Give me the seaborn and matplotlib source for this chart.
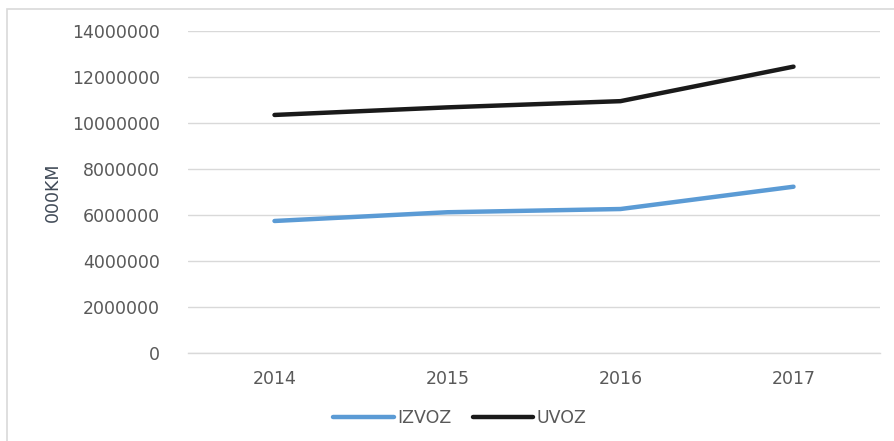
import pandas as pd
import matplotlib
matplotlib.use("Agg")
import matplotlib.pyplot as plt
import seaborn as sns
from matplotlib.patches import Rectangle
from matplotlib.ticker import FixedLocator

# Data
years = [2014, 2015, 2016, 2017]
izvoz = [5740000, 6120000, 6260000, 7230000]
uvoz = [10350000, 10680000, 10950000, 12450000]
series_names = ["IZVOZ", "UVOZ"]
y_ticks = [0, 2000000, 4000000, 6000000, 8000000, 10000000, 12000000, 14000000]

sns.set_theme(style="white")
plt.rcParams['font.family'] = ['DejaVu Sans']

df = pd.DataFrame({
    "year": years * 2,
    "value": izvoz + uvoz,
    "series": ["IZVOZ"] * len(years) + ["UVOZ"] * len(years),
})

text_col = "#595959"
grid_col = "#D9D9D9"

fig = plt.figure(figsize=(8.94, 4.41), dpi=100)
ax = fig.add_axes([188 / 894, 1 - 353 / 441, (880 - 188) / 894, (353 - 31) / 441])

sns.lineplot(data=df, x="year", y="value", hue="series", hue_order=series_names,
             palette={"IZVOZ": "#5B9BD5", "UVOZ": "#1A1A1A"},
             linewidth=3.2, ax=ax, legend=False, solid_capstyle="round")

ax.set_xlim(2013.5, 2017.5)
ax.set_ylim(0, 14000000)
ax.set_yticks(y_ticks)
ax.set_yticklabels([str(t) for t in y_ticks])
ax.set_xticks(years)
ax.set_xticklabels([str(y) for y in years])
ax.xaxis.set_minor_locator(FixedLocator([2013.5, 2014.5, 2015.5, 2016.5, 2017.5]))
ax.tick_params(axis="x", which="major", length=0, pad=12, labelsize=12.5, labelcolor=text_col)
ax.tick_params(axis="x", which="minor", length=6, color=grid_col, width=1, direction="out")
ax.tick_params(axis="y", length=0, pad=20, labelsize=12.5, labelcolor=text_col)

ax.grid(axis="y", color=grid_col, linewidth=1)
ax.set_axisbelow(True)
for side in ["top", "right", "left"]:
    ax.spines[side].set_visible(False)
ax.spines["bottom"].set_color(grid_col)
ax.spines["bottom"].set_linewidth(1)
ax.set_xlabel("")
ax.set_ylabel("")

fig.text(53 / 894, 1 - 192 / 441, "000KM", rotation=90, ha="center", va="center",
         fontsize=12.5, color="#404a57")

# legend at bottom center
handles = [plt.Line2D([0], [0], color="#5B9BD5", lw=3.2),
           plt.Line2D([0], [0], color="#1A1A1A", lw=3.2)]
fig.legend(handles, series_names, loc="center", bbox_to_anchor=(460 / 894, 1 - 418 / 441),
           ncol=2, frameon=False, fontsize=12.5, labelcolor=text_col,
           handlelength=3.5, handletextpad=0.2, columnspacing=1.2)

# chart border
fig.patches.append(Rectangle((7 / 894, -0.1), 1.2, 1 - 9 / 441 + 0.1, transform=fig.transFigure,
                             fill=False, edgecolor=grid_col, linewidth=1.2))

fig.savefig("out.png", dpi=100, facecolor="white")
